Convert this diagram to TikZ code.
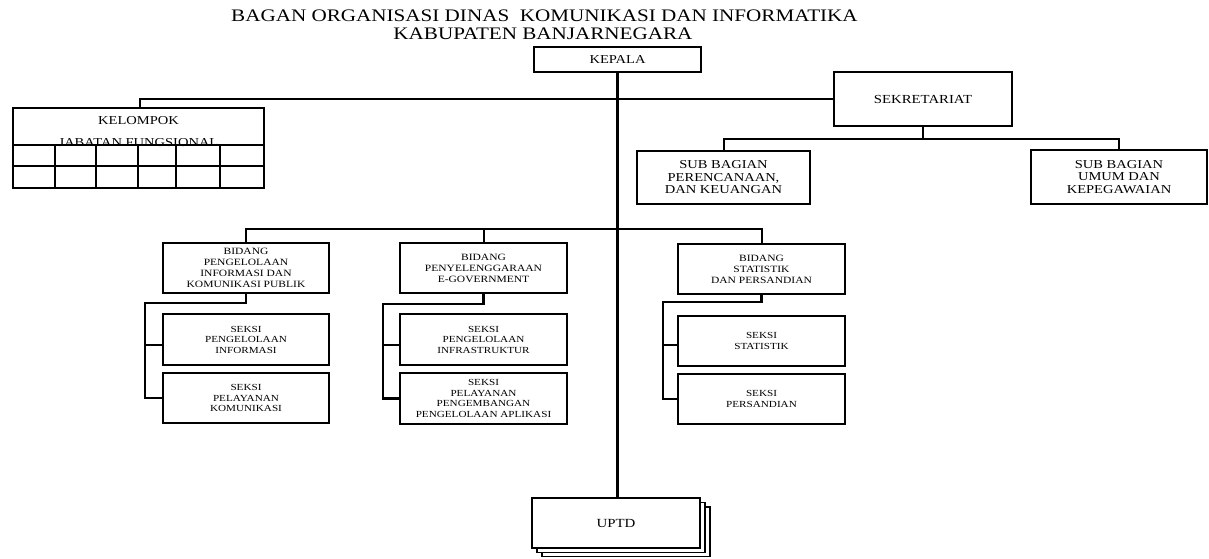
\documentclass[tikz,border=0pt]{standalone}
\usepackage{fontspec}
\setmainfont{Liberation Serif}[FakeStretch=1.2]
\usetikzlibrary{calc}
\tikzset{
  box/.style={draw, line width=1.8pt, align=center, inner sep=0pt, fill=white},
  conn/.style={line width=2pt},
  trunk/.style={line width=2.6pt},
  brk/.style={line width=2.4pt},
  gridln/.style={line width=1.5pt},
  fttl/.style={font=\fontsize{17.6}{19}\selectfont},
  fbig/.style={font=\fontsize{12.1}{12.5}\selectfont},
  fsek/.style={font=\fontsize{12.3}{13}\selectfont},
  fbid/.style={font=\fontsize{9.6}{11}\selectfont},
  fsk/.style={font=\fontsize{9.3}{10.5}\selectfont},
  bw/.style={minimum width=167pt, minimum height=50pt},
}
\begin{document}
\begin{tikzpicture}[x=1pt,y=-1pt]
\useasboundingbox (0,0) rectangle (1209,559);
% title
\node[fttl, anchor=base west, inner sep=0pt] (t1) at (231,22) {BAGAN ORGANISASI DINAS~ KOMUNIKASI DAN INFORMATIKA};
\node[fttl, anchor=base, inner sep=0pt] (t2) at (543,40) {KABUPATEN BANJARNEGARA};
% top level
\node[box, fbig, minimum width=167pt, minimum height=25pt] (kepala) at (617.5,59.5) {KEPALA};
\node[box, fsek, minimum width=178pt, minimum height=54pt] (sek) at (923,99) {SEKRETARIAT};
\node[box, fbig, minimum width=173pt, minimum height=53pt] (subp) at (723.5,177.5) {SUB BAGIAN\\PERENCANAAN,\\DAN KEUANGAN};
\node[box, fbig, minimum width=176pt, minimum height=54pt] (subu) at (1119,177) {SUB BAGIAN\\UMUM DAN\\KEPEGAWAIAN};
% kelompok jabatan fungsional
\node[box, minimum width=251pt, minimum height=80pt] (kel) at (138.5,148) {};
\node[fbig, inner sep=0pt] (kel1) at (138.5,121) {KELOMPOK};
\node[fbig, anchor=base, inner sep=0pt] (kel2) at (138.5,146.5) {JABATAN FUNGSIONAL};
\draw[gridln] (kel.west |- 0,145) -- (kel.east |- 0,145);
\draw[gridln] (kel.west |- 0,166) -- (kel.east |- 0,166);
\foreach \x in {55,96,138,176,220} \draw[gridln] (\x,145) -- (\x,0 |- kel.south);
% bidang
\node[box, fbid, bw, minimum width=166pt] (b1) at (246,268) {BIDANG\\PENGELOLAAN\\INFORMASI DAN\\KOMUNIKASI PUBLIK};
\node[box, fbid, bw] (b2) at (483.5,268) {BIDANG\\PENYELENGGARAAN\\E-GOVERNMENT};
\node[box, fbid, bw] (b3) at (761.5,269) {BIDANG\\STATISTIK\\DAN PERSANDIAN};
% seksi
\node[box, fsk, bw, minimum width=166pt, minimum height=51pt] (s1a) at (246,339.5) {SEKSI\\PENGELOLAAN\\INFORMASI};
\node[box, fsk, bw, minimum width=166pt] (s1b) at (246,398) {SEKSI\\PELAYANAN\\KOMUNIKASI};
\node[box, fsk, bw, minimum height=51pt] (s2a) at (483.5,339.5) {SEKSI\\PENGELOLAAN\\INFRASTRUKTUR};
\node[box, fsk, bw, minimum height=51pt] (s2b) at (483.5,398.5) {SEKSI\\PELAYANAN\\PENGEMBANGAN\\PENGELOLAAN APLIKASI};
\node[box, fsk, bw] (s3a) at (761.5,341) {SEKSI\\STATISTIK};
\node[box, fsk, bw] (s3b) at (761.5,399) {SEKSI\\PERSANDIAN};
% UPTD with stacked copies
\draw[line width=1.8pt, fill=white] (542,507) rectangle (710,556.5);
\draw[line width=1.8pt, fill=white] (537,502.5) rectangle (705,552.5);
\node[box, minimum width=168pt, minimum height=50pt, font=\fontsize{12.4}{13}\selectfont] (uptd) at (616,523) {UPTD};
% connectors
\draw[trunk] (kepala.south) -- (kepala.south |- uptd.north);
\draw[conn] (kel.north -| 140,0) |- (sek.west);
\draw[conn] (sek.south) -- ++(0,12) coordinate (sj);
\draw[conn] (subp.north) |- (sj) -| (subu.north);
\coordinate (bj) at (617,229);
\draw[conn] (b1.north) |- (bj) -| (b3.north);
\draw[conn] (b2.north) -- (b2.north |- bj);
% brackets
\coordinate (b1c) at (145,303);
\draw[brk] (b1.south) |- (b1c) |- (s1b.west);
\draw[brk] (b1c |- 0,345) -- (s1a.west |- 0,345);
\coordinate (b2c) at (383,304);
\draw[brk] (b2.south) |- (b2c) |- (s2b.west);
\draw[brk] (b2c |- 0,345) -- (s2a.west |- 0,345);
\coordinate (b3c) at (663,302);
\draw[brk] (b3.south) |- (b3c) |- (s3b.west);
\draw[brk] (b3c |- 0,345) -- (s3a.west |- 0,345);
\end{tikzpicture}
\end{document}
